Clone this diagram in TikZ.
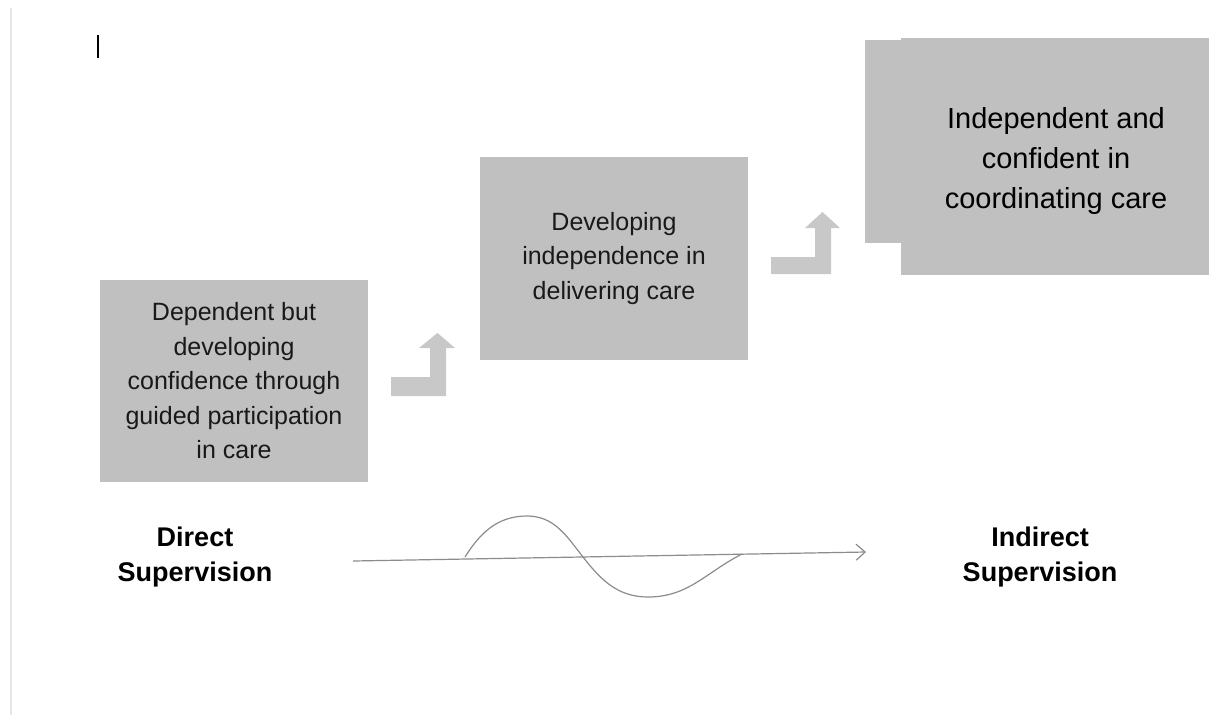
\documentclass[tikz,border=0pt]{standalone}
\usepackage{fontspec}
\setmainfont{Liberation Sans}
\usetikzlibrary{arrows.meta}
\definecolor{boxgray}{RGB}{192,192,192}
\definecolor{arrgray}{RGB}{200,200,200}
\definecolor{linegray}{RGB}{140,140,140}
\definecolor{edgegray}{RGB}{230,230,230}
\tikzset{
  stagebox/.style={fill=boxgray, draw=none, inner sep=0pt, align=center, text=black!90},
  bodytext/.style={font=\fontsize{25}{34.5}\selectfont},
  bigtext/.style={font=\fontsize{29}{40}\selectfont, align=center, text=black, inner sep=0pt},
  suplabel/.style={align=center, font=\bfseries\fontsize{27}{35}\selectfont},
  steparrow/.style={fill=arrgray, draw=none},
  axisline/.style={draw=linegray, line width=1.2pt, -{Straight Barb[length=9pt,width=16pt,line width=1.2pt]}},
  wave/.style={draw=linegray, line width=1.2pt}
}
\begin{document}
\begin{tikzpicture}[x=1pt,y=-1pt]
\useasboundingbox (0,0) rectangle (1209,715);
\fill[white] (0,0) rectangle (1209,715);
% page edge and cursor
\draw[edgegray, line width=2pt] (11,8) -- (11,715);
\draw[black, line width=1.6pt] (98,35) -- (98,58);
% stage boxes
\node[stagebox, bodytext, minimum width=268pt, minimum height=202pt] (s1) at (234,381)
  {Dependent but\\developing\\confidence through\\guided participation\\in care};
\node[stagebox, bodytext, minimum width=268pt, minimum height=203pt] (s2) at (614,258.5)
  {Developing\\independence in\\delivering care};
\fill[boxgray] (865,40) rectangle (905,243);
\node[stagebox, minimum width=308pt, minimum height=237pt] (s3) at (1055,156.5) {};
\node[bigtext] (s3t) at (1056,160.5) {Independent and\\confident in\\coordinating care};
% step arrows
\fill[steparrow] (391,377) -- (430,377) -- (430,348) -- (419,348) -- (437.5,333) -- (455,348) -- (446,348) -- (446,396) -- (391,396) -- cycle;
\fill[steparrow] (771,257) -- (815,257) -- (815,228) -- (805,228) -- (822.5,212) -- (840,228) -- (831,228) -- (831,274) -- (771,274) -- cycle;
% supervision labels
\node[suplabel] (d) at (195,557) {Direct\\Supervision};
\node[suplabel] (i) at (1040,557) {Indirect\\Supervision};
% axis and wave
\coordinate (ax0) at (353,561);
\coordinate (ax1) at (866,552);
\draw[axisline] (ax0) -- (ax1);
\coordinate (w0) at (465,557);
\coordinate (w1) at (527,516);
\coordinate (w2) at (583,557);
\coordinate (w3) at (648,597);
\coordinate (w4) at (742,554);
\draw[wave] (w0) to[out=58,in=180] (w1) to[out=0,in=128] (w2) to[out=-52,in=180] (w3) to[out=0,in=207] (w4);
\end{tikzpicture}
\end{document}
